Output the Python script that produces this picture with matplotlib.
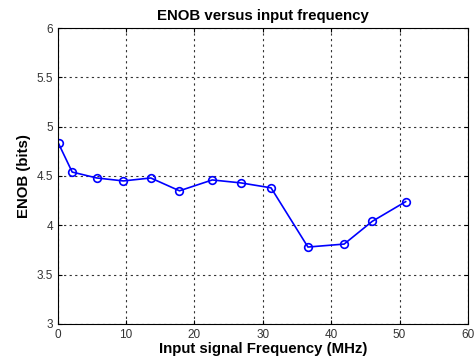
import matplotlib
matplotlib.use('Agg')
import matplotlib.pyplot as plt

# Data
freq_mhz = [0.1, 2.1, 5.7, 9.6, 13.6, 17.8, 22.6, 26.8, 31.2, 36.6, 41.9, 46.0, 50.9]
enob = [4.83, 4.54, 4.48, 4.45, 4.48, 4.35, 4.46, 4.43, 4.38, 3.78, 3.81, 4.04, 4.24]

x_ticks = [0, 10, 20, 30, 40, 50, 60]
y_ticks = [3, 3.5, 4, 4.5, 5, 5.5, 6]

plt.rcParams['font.family'] = ['Liberation Sans', 'DejaVu Sans']

fig = plt.figure(figsize=(4.74, 3.59), dpi=100)
ax = fig.add_axes([0.122, 0.0975, 0.865, 0.8245])

ax.plot(freq_mhz, enob, '-o', color='blue', linewidth=1.2,
        markersize=5.5, markerfacecolor='none', markeredgewidth=1.2)

ax.set_xlim(0, 60)
ax.set_ylim(3, 6)
ax.set_xticks(x_ticks)
ax.set_yticks(y_ticks)
ax.set_xticklabels([str(t) for t in x_ticks])
ax.set_yticklabels(['3', '3.5', '4', '4.5', '5', '5.5', '6'])
ax.grid(True, linestyle=(0, (2, 3)), color='#333333', linewidth=0.8)
ax.tick_params(direction='in', top=True, right=True, labelsize=8.5,
               labelcolor='#333333', length=3)
for s in ax.spines.values():
    s.set_linewidth(0.8)

ax.set_title('ENOB versus input frequency', fontsize=10.8, fontweight='bold', pad=6)
ax.set_xlabel('Input signal Frequency (MHz)', fontsize=10.8, fontweight='bold', labelpad=1)
ax.set_ylabel('ENOB (bits)', fontsize=10.8, fontweight='bold', labelpad=4)

fig.savefig('out.png', dpi=100, facecolor='white')
